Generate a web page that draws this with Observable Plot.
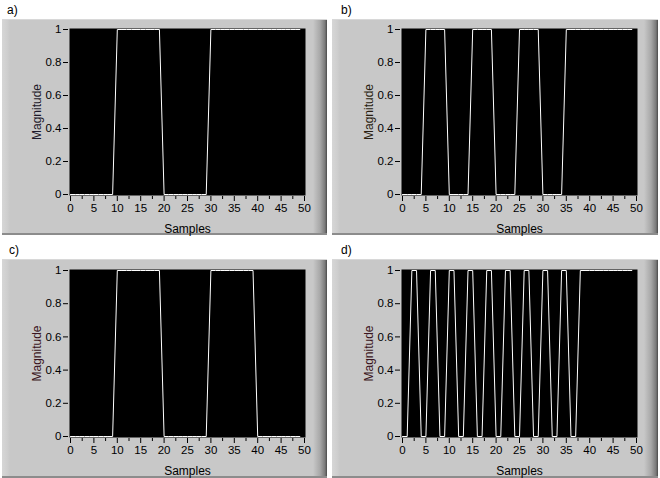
<!DOCTYPE html>
<html>
<head>
<meta charset="utf-8">
<script src="https://cdn.jsdelivr.net/npm/d3@7"></script>
<script src="https://cdn.jsdelivr.net/npm/@observablehq/plot@0.6"></script>
<style>
  html, body { margin: 0; padding: 0; background: #ffffff; }
  #root { position: relative; width: 660px; height: 478px; overflow: hidden; font-family: "Liberation Sans", Arial, sans-serif; }
  .panel {
    position: absolute;
    background: linear-gradient(to right, #d6d6d6 0px, #cfcfcf 5px, #c8c8c8 8px, #c8c8c8 calc(100% - 14px), #a8a8a8 calc(100% - 7px), #7a7a7a calc(100% - 2px), #4a4a4a 100%);
    box-shadow: inset 0 -2px 0 #8c8c8c, inset 0 1px 0 #d8d8d8;
  }
  .tag { position: absolute; font-size: 12px; color: #000; line-height: 12px; }
  .panel svg { position: absolute; left: 0; top: 0; overflow: visible; }
</style>
</head>
<body>
<div id="root"></div>
<script>
// Sample index (x) shared by all four panels
const samples = [0,1,2,3,4,5,6,7,8,9,10,11,12,13,14,15,16,17,18,19,20,21,22,23,24,25,26,27,28,29,30,31,32,33,34,35,36,37,38,39,40,41,42,43,44,45,46,47,48,49];

// Magnitude series per panel
const magA = [0,0,0,0,0,0,0,0,0,0, 1,1,1,1,1,1,1,1,1,1, 0,0,0,0,0,0,0,0,0,0, 1,1,1,1,1,1,1,1,1,1, 1,1,1,1,1,1,1,1,1,1];
const magB = [0,0,0,0,0, 1,1,1,1,1, 0,0,0,0,0, 1,1,1,1,1, 0,0,0,0,0, 1,1,1,1,1, 0,0,0,0,0, 1,1,1,1,1, 1,1,1,1,1, 1,1,1,1,1];
const magC = [0,0,0,0,0,0,0,0,0,0, 1,1,1,1,1,1,1,1,1,1, 0,0,0,0,0,0,0,0,0,0, 1,1,1,1,1,1,1,1,1,1, 0,0,0,0,0,0,0,0,0,0];
const magD = [0,0,1,1, 0,0,1,1, 0,0,1,1, 0,0,1,1, 0,0,1,1, 0,0,1,1, 0,0,1,1, 0,0,1,1, 0,0,1,1, 0,0, 1,1,1,1,1,1,1,1,1,1,1,1];

// Axis ticks
const xTicks = [0,5,10,15,20,25,30,35,40,45,50];
const xMinor = [2.5,7.5,12.5,17.5,22.5,27.5,32.5,37.5,42.5,47.5];
const yTicks = [0,0.2,0.4,0.6,0.8,1];
const panelTags = ["a)", "b)", "c)", "d)"];
const xLabel = "Samples";
const yLabel = "Magnitude";

const panels = [
  {tag: panelTags[0], mag: magA, left: 2,   top: 19,  w: 325, h: 216, ml: 68, mt: 10, pw: 234, ph: 165, tagX: 7,   tagY: 4,   labelColor: "#1e1a2a"},
  {tag: panelTags[1], mag: magB, left: 332, top: 19,  w: 326, h: 216, ml: 70, mt: 10, pw: 234, ph: 165, tagX: 341, tagY: 4,   labelColor: "#2a1e10"},
  {tag: panelTags[2], mag: magC, left: 2,   top: 259, w: 325, h: 219, ml: 68, mt: 11, pw: 234, ph: 166, tagX: 9,   tagY: 244, labelColor: "#3a1420"},
  {tag: panelTags[3], mag: magD, left: 332, top: 259, w: 326, h: 219, ml: 70, mt: 11, pw: 234, ph: 166, tagX: 341, tagY: 244, labelColor: "#3a1420"}
];

const root = document.getElementById("root");
const fmtY = d => String(+d.toFixed(1));

for (const p of panels) {
  const tag = document.createElement("div");
  tag.className = "tag";
  tag.style.left = p.tagX + "px";
  tag.style.top = p.tagY + "px";
  tag.textContent = p.tag;
  root.appendChild(tag);

  const div = document.createElement("div");
  div.className = "panel";
  div.style.left = p.left + "px";
  div.style.top = p.top + "px";
  div.style.width = p.w + "px";
  div.style.height = p.h + "px";
  root.appendChild(div);

  const data = samples.map((s, i) => ({sample: s, value: p.mag[i]}));

  const chart = Plot.plot({
    width: p.w,
    height: p.h,
    marginLeft: p.ml,
    marginTop: p.mt,
    marginRight: p.w - p.ml - p.pw,
    marginBottom: p.h - p.mt - p.ph,
    style: {background: "transparent", fontFamily: "'Liberation Sans', Arial, sans-serif", fontSize: "11.5px", color: "#000"},
    x: {domain: [0, 50]},
    y: {domain: [0, 1]},
    marks: [
      Plot.frame({fill: "#000", stroke: "#000", inset: -0.5}),
      Plot.axisY({ticks: yTicks, tickFormat: fmtY, tickSize: 5, tickPadding: 2, dx: -2, label: null, stroke: "#000", fill: "#000"}),
      Plot.axisY({ticks: [], label: yLabel, labelAnchor: "center", labelArrow: "none", labelOffset: 38, fontSize: 12, color: p.labelColor}),
      Plot.axisX({ticks: xTicks, tickFormat: d => String(d), tickSize: 5, tickPadding: 2, dy: 2, label: null, stroke: "#000"}),
      Plot.axisX({ticks: xMinor, tickSize: 3, text: null, dy: 2, label: null, stroke: "#000"}),
      Plot.axisX({ticks: [], label: xLabel, labelAnchor: "center", labelArrow: "none", labelOffset: 38, fontSize: 12}),
      Plot.line(data, {x: "sample", y: "value", stroke: "#ffffff", strokeWidth: 1})
    ]
  });
  div.appendChild(chart);
}
</script>
</body>
</html>
